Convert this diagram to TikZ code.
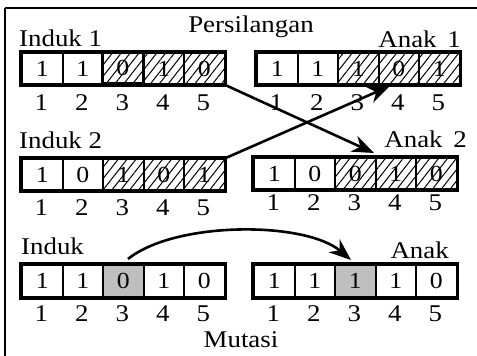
\documentclass[tikz,border=0pt]{standalone}
\usepackage{fontspec}
\setmainfont{Liberation Serif}[FakeStretch=1.12]
\usetikzlibrary{patterns.meta,arrows.meta}
\begin{document}
\begin{tikzpicture}[x=1pt,y=-1pt,
  cell/.style={draw, line width=2.2pt, minimum width=40.5pt, minimum height=31pt,
    inner sep=0pt, anchor=north west, font=\fontsize{23}{23}\selectfont},
  hatch/.style={cell, pattern={Lines[angle=52,distance=7pt,line width=1pt]}},
  graycell/.style={cell, fill=black!25},
  num/.style={anchor=base, inner sep=0pt, font=\fontsize{24}{24}\selectfont},
  lab/.style={inner sep=0pt, font=\fontsize{24}{24}\selectfont},
  outer/.style={line width=3.5pt},
  arr/.style={line width=2.6pt, -{Stealth[length=22pt,width=17pt,inset=7pt]}},
  frame/.style={line width=1.8pt}
]
\useasboundingbox (0,0) rectangle (477,356);
\draw[frame] (5,8) -- (480,8);
\draw[frame] (5,8) -- (5,360);

% Induk 1
\foreach \v/\s [count=\i] in {1/cell,1/cell,0/hatch,1/hatch,0/hatch}
  \node[style=\s] (ia\i) at ({21+(\i-1)*40.5},52) {\v};
\draw[outer] (ia1.north west) rectangle (ia5.south east);
\foreach \i in {1,...,5} \node[num] (ian\i) at ({21+(\i-0.5)*40.5},110) {\i};

% Anak 1
\foreach \v/\s [count=\i] in {1/cell,1/cell,1/hatch,0/hatch,1/hatch}
  \node[style=\s] (aa\i) at ({256+(\i-1)*40.5},52) {\v};
\draw[outer] (aa1.north west) rectangle (aa5.south east);
\foreach \i in {1,...,5} \node[num] (aan\i) at ({256+(\i-0.5)*40.5},110) {\i};

% Induk 2
\foreach \v/\s [count=\i] in {1/cell,0/cell,1/hatch,0/hatch,1/hatch}
  \node[style=\s] (ib\i) at ({21+(\i-1)*40.5},158) {\v};
\draw[outer] (ib1.north west) rectangle (ib5.south east);
\foreach \i in {1,...,5} \node[num] (ibn\i) at ({21+(\i-0.5)*40.5},215) {\i};

% Anak 2
\foreach \v/\s [count=\i] in {1/cell,0/cell,0/hatch,1/hatch,0/hatch}
  \node[style=\s] (ab\i) at ({253+(\i-1)*40.5},157) {\v};
\draw[outer] (ab1.north west) rectangle (ab5.south east);
\foreach \i in {1,...,5} \node[num] (abn\i) at ({253+(\i-0.5)*40.5},210) {\i};

% Mutasi: Induk
\foreach \v/\s [count=\i] in {1/cell,1/cell,0/graycell,1/cell,0/cell}
  \node[style=\s, minimum height=32pt] (im\i) at ({21+(\i-1)*40.5},264) {\v};
\draw[outer] (im1.north west) rectangle (im5.south east);
\foreach \i in {1,...,5} \node[num] (imn\i) at ({21+(\i-0.5)*40.5},321) {\i};

% Mutasi: Anak
\foreach \v/\s [count=\i] in {1/cell,1/cell,1/graycell,1/cell,0/cell}
  \node[style=\s, minimum height=32pt] (am\i) at ({253+(\i-1)*40.5},264) {\v};
\draw[outer] (am1.north west) rectangle (am5.south east);
\foreach \i in {1,...,5} \node[num] (amn\i) at ({253+(\i-0.5)*40.5},321) {\i};

% labels
\node[lab, anchor=base west] (lia) at (19,46) {Induk 1};
\node[lab, anchor=base east] (laa) at (461,47) {Anak\, 1};
\node[lab, anchor=base] (lpers) at (251,32) {Persilangan};
\node[lab, anchor=base west] (lib) at (19,148) {Induk 2};
\node[lab, anchor=base east] (lab2) at (467,147) {Anak\, 2};
\node[lab, anchor=base west] (lim) at (21,254) {Induk};
\node[lab, anchor=base east] (lam) at (449,258) {Anak};
\node[lab, anchor=base] (lmut) at (241,347) {Mutasi};

% connectors
\coordinate (tipB) at (374,153);
\coordinate (tipA) at (390,86);
\coordinate (startM) at (128,259);
\coordinate (tipM) at (351,260);
\draw[arr] (ia5.south east) -- (tipB);
\draw[arr] (ib5.north east) -- (tipA);
\draw[arr] (startM) .. controls (175,221) and (305,221) .. (tipM);
\end{tikzpicture}
\end{document}
